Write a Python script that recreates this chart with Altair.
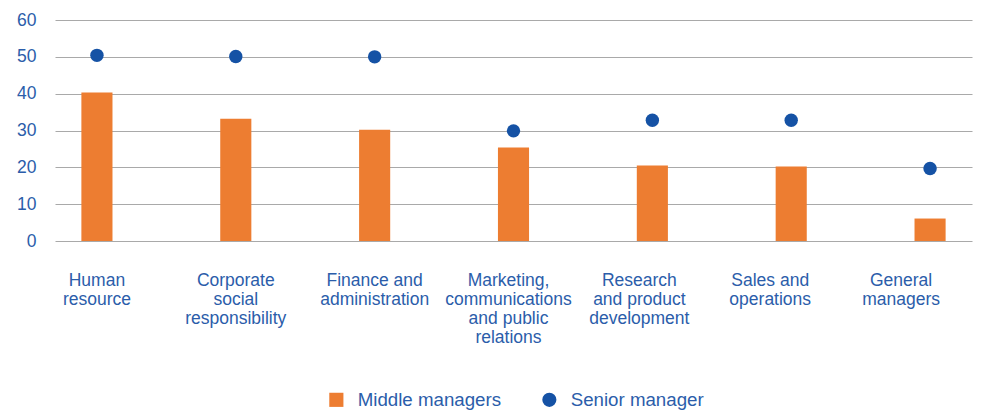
import altair as alt
import pandas as pd

categories = [
    "Human|resource",
    "Corporate|social|responsibility",
    "Finance and|administration",
    "Marketing,|communications|and public|relations",
    "Research|and product|development",
    "Sales and|operations",
    "General|managers",
]
middle_managers = [40.3, 33.2, 30.2, 25.4, 20.5, 20.2, 6.1]
senior_manager = [50.4, 50.1, 50.0, 29.9, 32.8, 32.8, 19.7]
series_names = ["Middle managers", "Senior manager"]
y_ticks = [0, 10, 20, 30, 40, 50, 60]

ORANGE = "#ED7D31"
BLUE = "#1552A5"
TEXT = "#2B5DAA"
FONT = "Liberation Sans"

# horizontal nudges of the category labels (style only)
label_shift = {
    "Marketing,|communications|and public|relations": -5,
    "Research|and product|development": -13,
    "Sales and|operations": -21,
    "General|managers": -29,
}
label_offset = {
    "condition": [
        {"test": f"datum.value === '{k}'", "value": v} for k, v in label_shift.items()
    ],
    "value": 0,
}

df_bar = pd.DataFrame({"cat": categories, "value": middle_managers, "series": series_names[0]})
df_pt = pd.DataFrame({"cat": categories, "value": senior_manager, "series": series_names[1]})

x_enc = alt.X(
    "cat:N",
    sort=categories,
    title=None,
    scale=alt.Scale(paddingInner=0.776, paddingOuter=0.19),
    axis=alt.Axis(
        labelExpr="split(datum.label, '|')",
        labelAngle=0,
        labelColor=TEXT,
        labelFont=FONT,
        labelFontSize=17.5,
        labelLineHeight=19,
        labelPadding=30,
        labelLimit=0,
        labelOffset=label_offset,
        ticks=False,
        domain=False,
        grid=False,
    ),
)
y_enc = alt.Y(
    "value:Q",
    title=None,
    scale=alt.Scale(domain=[0, 60], nice=False),
    axis=alt.Axis(
        values=y_ticks,
        labelColor=TEXT,
        labelFont=FONT,
        labelFontSize=17.5,
        labelPadding=19,
        ticks=False,
        domain=False,
        grid=True,
        gridColor="#a9a9a9",
        gridWidth=1.2,
    ),
)

color_scale = alt.Scale(domain=series_names, range=[ORANGE, BLUE])
legend = alt.Legend(
    title=None,
    orient="none",
    direction="horizontal",
    legendX=272,
    legendY=370,
    labelColor=TEXT,
    labelFont=FONT,
    labelFontSize=18.7,
    symbolSize=200,
    symbolStrokeWidth=0,
    columnPadding=38,
    labelOffset=12,
)

bars = alt.Chart(df_bar).mark_bar().encode(
    x=x_enc,
    y=y_enc,
    color=alt.Color("series:N", scale=color_scale, legend=legend),
)
points = alt.Chart(df_pt).mark_point(filled=True, size=180, opacity=1).encode(
    x=x_enc,
    y=y_enc,
    color=alt.Color("series:N", scale=color_scale, legend=legend),
    shape=alt.Shape("series:N", scale=alt.Scale(domain=series_names, range=["square", "circle"]), legend=legend),
)

chart = (
    alt.layer(bars, points)
    .properties(
        width=917,
        height=221,
        autosize=alt.AutoSizeParams(type="none"),
        padding={"left": 47, "top": 12, "right": 6, "bottom": 170},
        background="white",
    )
    .configure_view(stroke=None)
)

chart.save("out.html", embed_options={"renderer": "svg", "actions": False})
